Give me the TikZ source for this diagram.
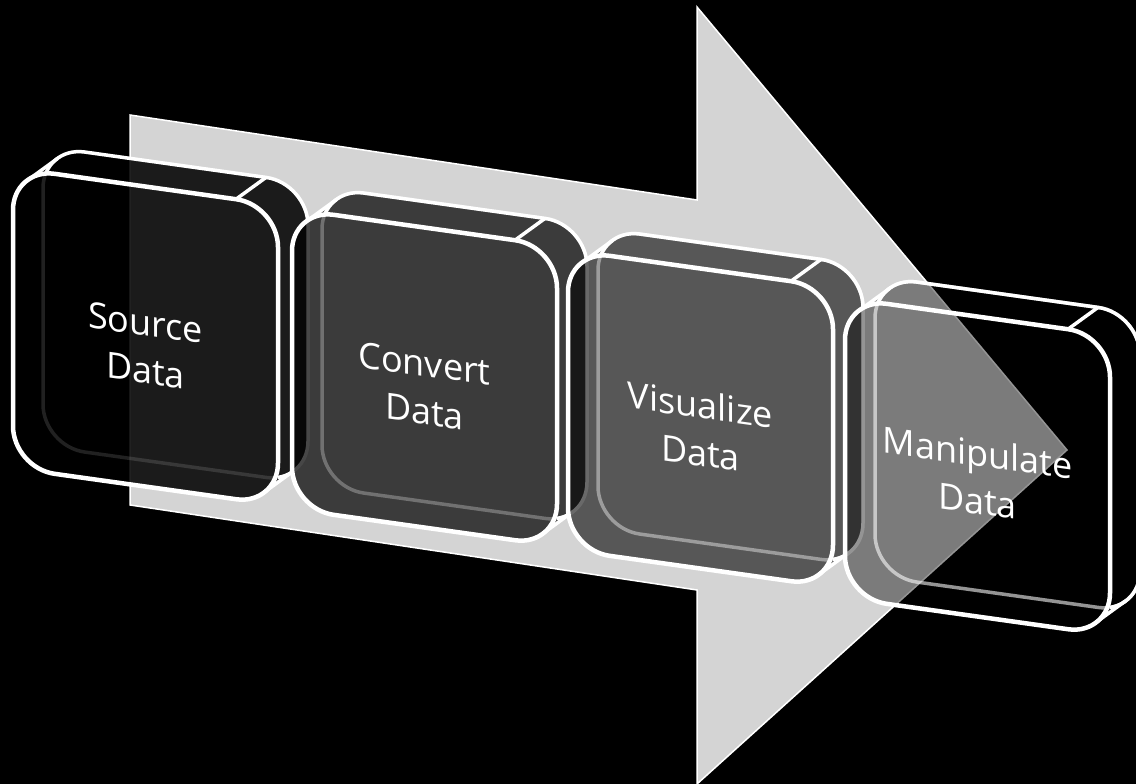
\documentclass[tikz,border=0pt]{standalone}
\usepackage{fontspec}
\setmainfont{Open Sans}
\definecolor{arrowgray}{HTML}{D4D4D4}
\tikzset{
  faceline/.style={white, line width=4.5pt},
  backline/.style={white, line width=3.5pt},
  arrowline/.style={white, line width=1.5pt, line join=miter},
  steptext/.style={text=white, font=\fontsize{36}{48}\selectfont, align=center, transform shape, inner sep=0pt},
}
% One step block: extruded rounded square, sheared into the arrow's plane.
% #1 node name, #2/#3 lower-left corner, #4 body opacity, #5 text
\newcommand\stepblock[5]{%
\begin{scope}[shift={(#2,#3)}, yslant=-0.14]
  % body: front face swept back to the rear face, filled in one go
  \fill[black, opacity=#4, rounded corners=42pt]
    foreach \t in {0,1,...,20} { (1.5*\t, 1.3*\t) rectangle ++(265,300) };
  % rear face outline, faint where the front face covers it
  \draw[backline, opacity=1-#4, rounded corners=42pt] (30,26) rectangle ++(265,300);
  \begin{scope}
    \clip (-100,500) rectangle (500,-100) (0,0) rectangle (265,300);
    \draw[backline, rounded corners=42pt] (30,26) rectangle ++(265,300);
  \end{scope}
  % silhouette and crease lines between the two faces
  \draw[backline, line cap=round] (14.5,289.7) -- ++(30,26);
  \draw[backline, line cap=round] (250.5,10.3) -- ++(30,26);
  \draw[backline, line cap=round] (223,300) -- ++(30,26);
  % front face
  \draw[faceline, rounded corners=42pt] (0,0) rectangle (265,300);
  \node[steptext] (#1) at (132.5,140) {#5};
\end{scope}}

\begin{document}
\begin{tikzpicture}[x=1pt, y=1pt]
  \fill[black] (0,0) rectangle (1136,784);
  \useasboundingbox (0,0) rectangle (1136,784);

  % the large arrow behind the steps
  \fill[arrowgray] (130,669) -- (697,584) -- (697,777) -- (1067,334)
    -- (697,0) -- (697,194) -- (130,279) -- cycle;
  \draw[arrowline] (130,669) -- (697,584) -- (697,777) -- (1067,334)
    -- (697,0) -- (697,194) -- (130,279) -- cycle;

  \stepblock{src}{13}{316}{0.87}{Source\\Data}
  \stepblock{cnv}{292}{275}{0.72}{Convert\\Data}
  \stepblock{vis}{568}{234}{0.59}{Visualize\\Data}
  \stepblock{man}{845}{186}{0.42}{Manipulate\\Data}
\end{tikzpicture}
\end{document}
